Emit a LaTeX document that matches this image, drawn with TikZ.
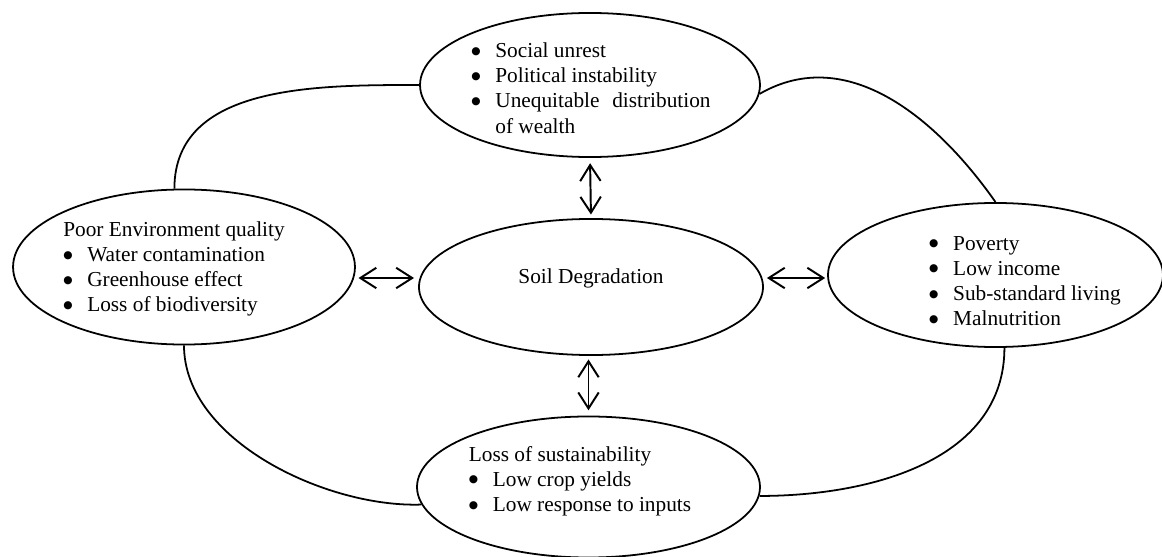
\documentclass[tikz,border=0pt]{standalone}
\usepackage{fontspec}
\setmainfont{Liberation Serif}
\newfontfamily\dotfont{DejaVu Sans}
\usepackage{tikz}
\usetikzlibrary{shapes.geometric, arrows.meta}

\newcommand{\itm}{\makebox[13.5pt][l]{\raisebox{1.9pt}{\dotfont\fontsize{6}{6}\selectfont ●}}}

\begin{document}
\begin{tikzpicture}[x=0.563pt, y=-0.563pt,
  bubble/.style={draw, ellipse, line width=1pt, inner sep=0pt},
  words/.style={align=left, inner sep=0pt, font=\fontsize{12}{14.2}\selectfont},
  link/.style={line width=1pt},
  twoway/.style={line width=1.1pt, {Straight Barb[length=9pt,width=11.5pt]}-{Straight Barb[length=9pt,width=11.5pt]}}]
\useasboundingbox (0,0) rectangle (1162,557);

% ellipses
\node[bubble, minimum width=191.4pt, minimum height=81.1pt] (social) at (590,85) {};
\node[bubble, minimum width=192.5pt, minimum height=87.3pt] (env) at (184,267) {};
\node[bubble, minimum width=193.7pt, minimum height=76.6pt] (soil) at (591,287) {};
\node[bubble, minimum width=188.6pt, minimum height=81.1pt] (poverty) at (995.5,275) {};
\node[bubble, minimum width=193.1pt, minimum height=79.4pt] (sustain) at (588.5,487) {};

% texts
\node[words] (socialtext) at (591,88) {\itm Social unrest\\ \itm Political instability\\ \itm Unequitable\hspace{0.6em}distribution\\ \hspace*{13.5pt}of wealth};
\node[words] (envtext) at (174,269) {Poor Environment quality\\ \itm Water contamination\\ \itm Greenhouse effect\\ \itm Loss of biodiversity};
\node[words] (soiltext) at (591,278) {Soil Degradation};
\node[words] (povertytext) at (1025,281) {\itm Poverty\\ \itm Low income\\ \itm Sub-standard living\\ \itm Malnutrition};
\node[words] (sustaintext) at (580,481) {Loss of sustainability\\ \itm Low crop yields\\ \itm Low response to inputs};

% two-way arrows
\draw[twoway, shorten <=3pt, shorten >=2pt] (social.south) -- (soil.north);
\draw[twoway, shorten <=2pt, shorten >=3pt] (sustain.north |- soil.south) -- (sustain.north);
\draw[twoway, shorten <=1.5pt, shorten >=2.3pt] (env.east |- soiltext) -- (soil.west |- soiltext);
\draw[twoway, shorten <=1.7pt, shorten >=1.1pt] (soil.east |- soiltext) -- (poverty.west |- soiltext);

% outer ring
\draw[link] (env.97) to[out=90, in=180] (social.west);
\draw[link] (social.-3) to[out=30, in=125] (poverty.north);
\draw[link] (env.south) to[out=-90, in=182, looseness=0.85] (sustain.186);
\draw[link] (poverty.-83) to[out=-90, in=0] (sustain.-3);
\end{tikzpicture}
\end{document}
